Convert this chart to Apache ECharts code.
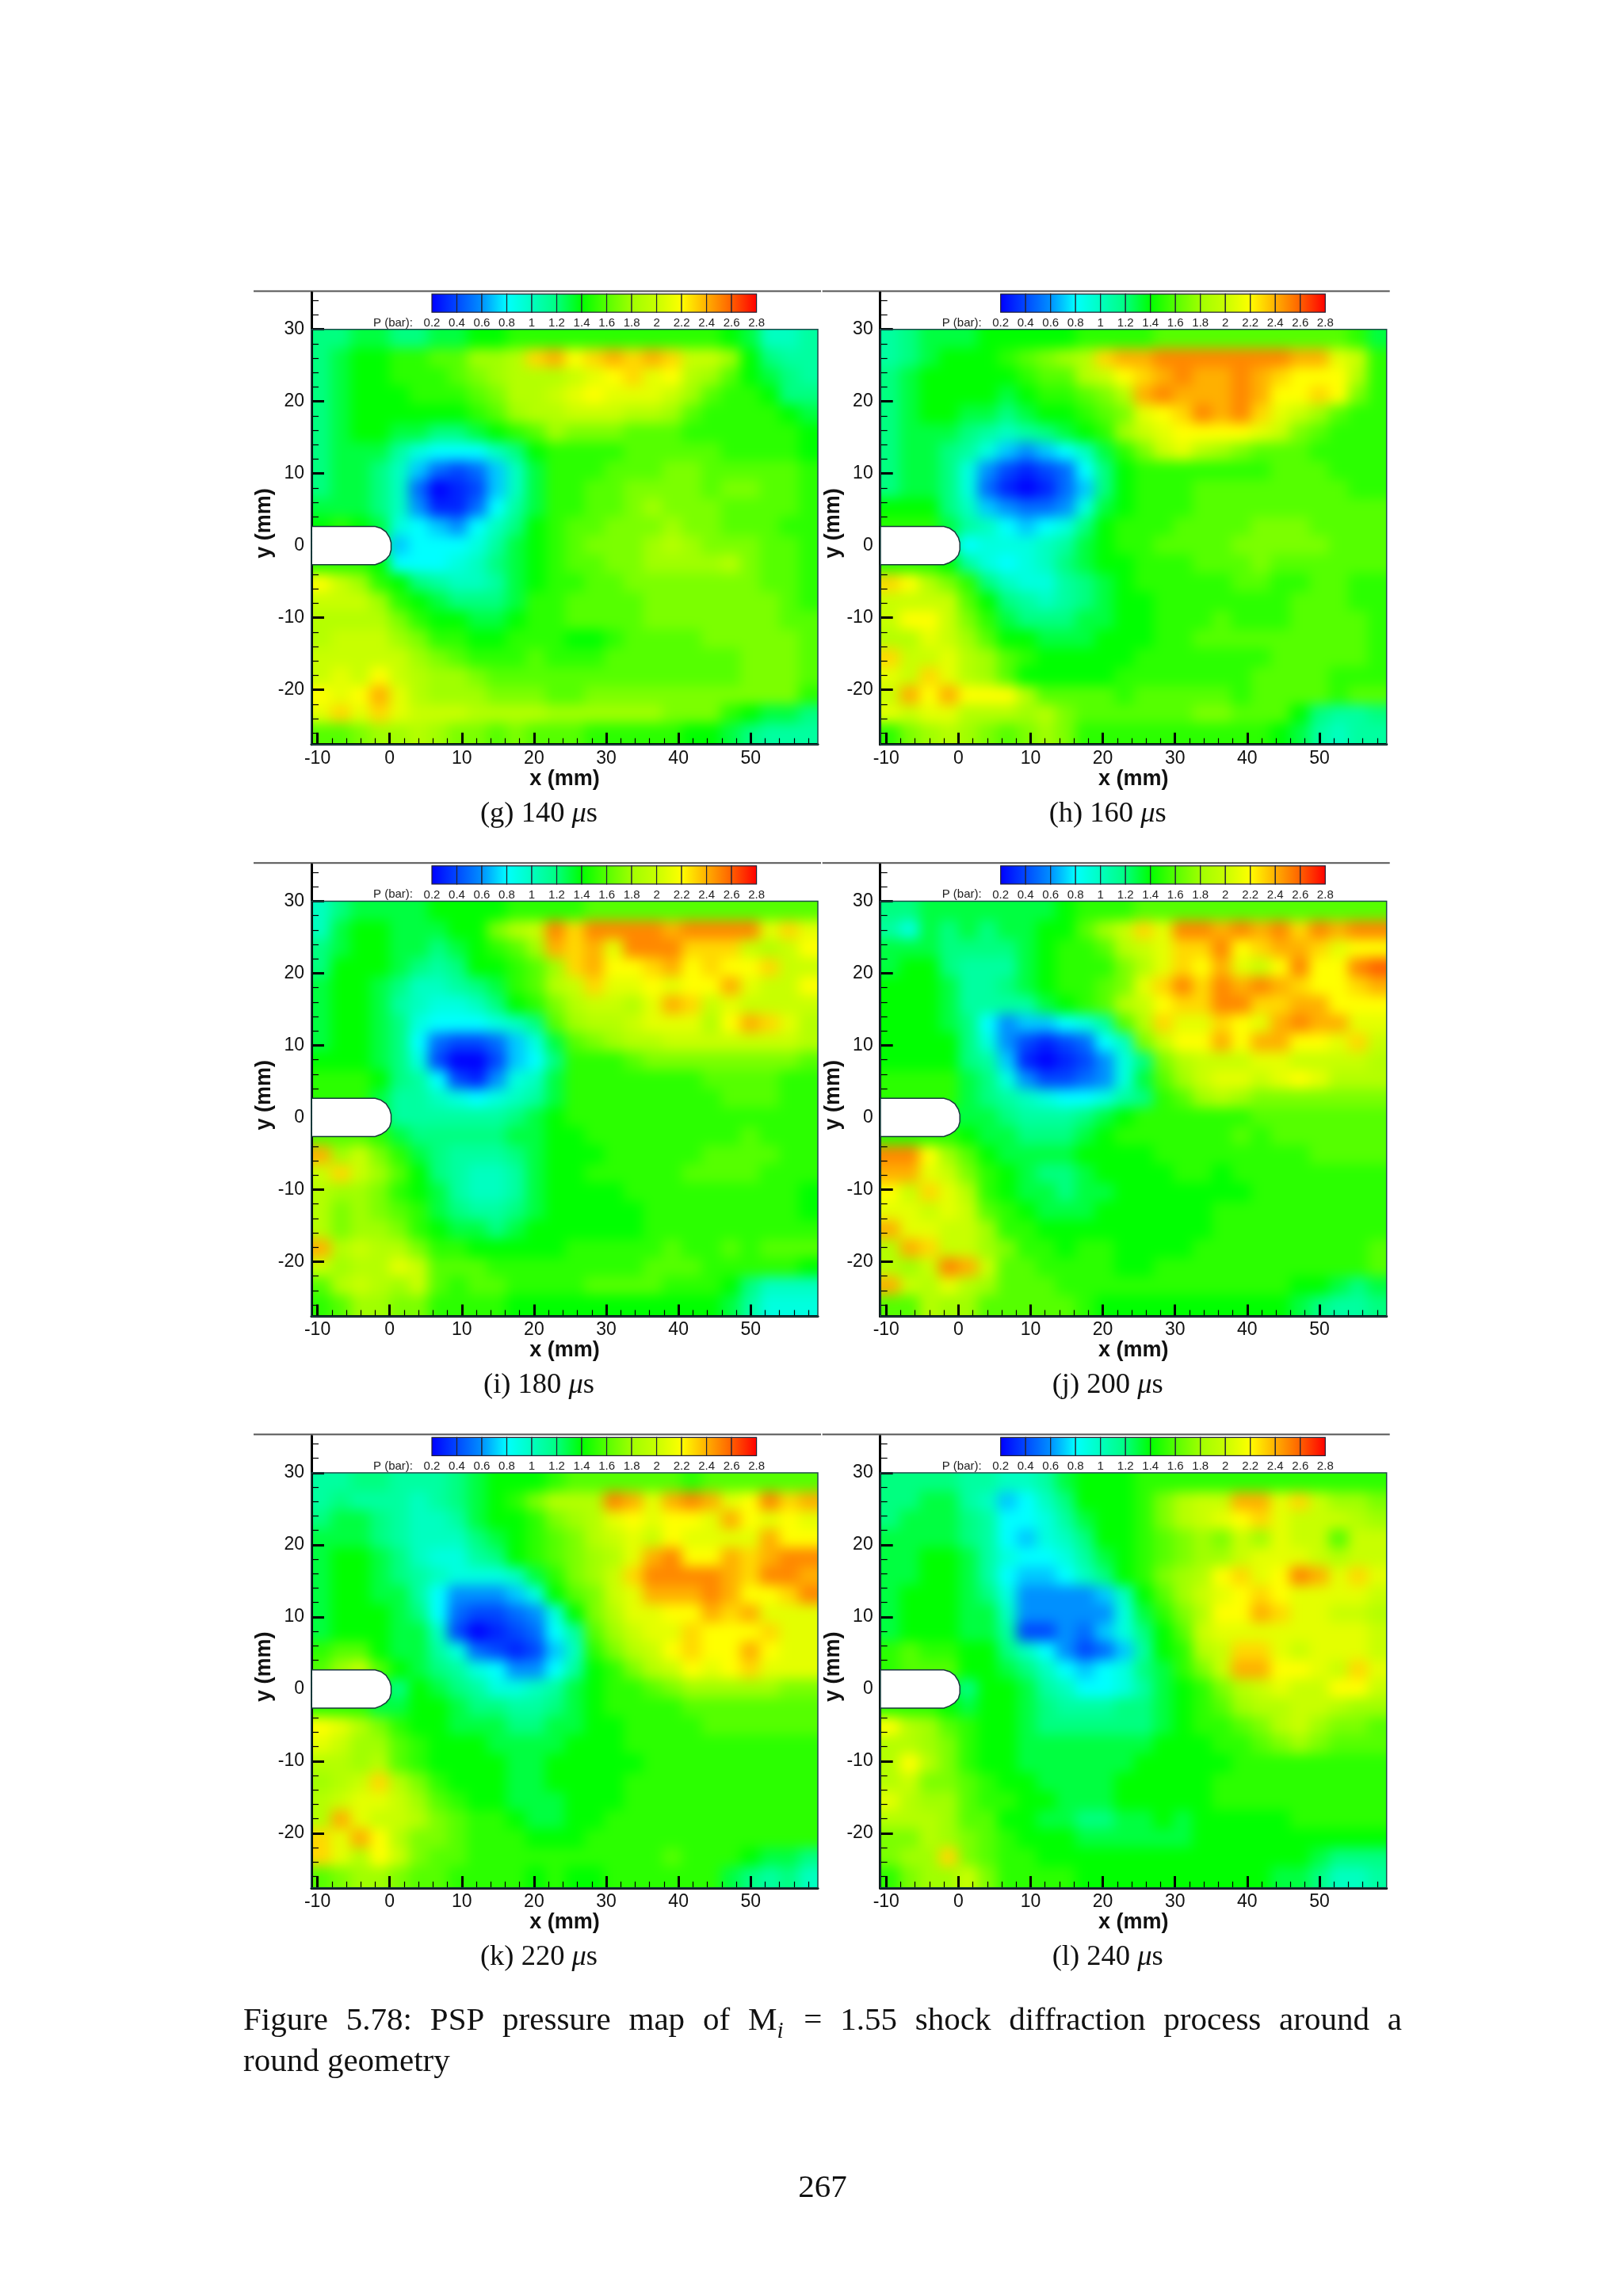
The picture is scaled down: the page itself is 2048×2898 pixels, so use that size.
<!DOCTYPE html>
<html>
<head>
<meta charset="utf-8">
<title>PSP pressure map</title>
<script src="https://cdn.jsdelivr.net/npm/echarts@6/dist/echarts.min.js"></script>
<style>
html, body { margin: 0; padding: 0; background: #fff; }
#page { position: absolute; left: 0; top: 0; width: 2048px; height: 2898px; z-index: 2; }
.heat { position: absolute; overflow: hidden; z-index: 1; }
.heat div.inner { position: absolute; filter: blur(8px); }
</style>
</head>
<body>
<div id="page"></div>
<script>
// cell centres in mm
const xCells = [-9.5,-6.8,-4.1,-1.4,1.3,4,6.7,9.4,12.1,14.8,17.5,20.2,22.9,25.6,28.3,31,33.7,36.4,39.1,41.8,44.5,47.2,49.9,52.6,55.3,58];
const yCells = [28.7,26.1,23.5,20.9,18.3,15.7,13.1,10.5,7.9,5.3,2.7,0.1,-2.5,-5.1,-7.7,-10.3,-12.9,-15.5,-18.1,-20.7,-23.3,-25.9];

const xTicks = [-10,0,10,20,30,40,50];
const xMinorTicks = [-8,-6,-4,-2,2,4,6,8,12,14,16,18,22,24,26,28,32,34,36,38,42,44,46,48,52,54,56,58];
const yTicks = [-20,-10,0,10,20,30];
const yMinorTicks = [-26,-24,-22,-18,-16,-14,-12,-8,-6,-4,-2,2,4,6,8,12,14,16,18,22,24,26,28,32,34];
const legendTicks = [0.2,0.4,0.6,0.8,1,1.2,1.4,1.6,1.8,2,2.2,2.4,2.6,2.8];

// round geometry outline, mm
const bodyX = [-10.8,-2,-1.2,-0.5,0,0.2,0.2,0,-0.5,-1.2,-2,-10.8];
const bodyY = [2.65,2.65,2.4,1.9,1.1,0.4,-0.6,-1.3,-1.9,-2.35,-2.65,-2.65];

const captions = ['(g) 140 ','(h) 160 ','(i) 180 ','(j) 200 ','(k) 220 ','(l) 240 '];

// pressure in tenths of a bar, rows top to bottom
const map140 = [
[12,12,13,13,12,12,13,13,14,14,15,15,15,15,15,15,15,15,15,15,15,14,13,10,10,11],
[12,13,14,14,15,15,16,16,18,18,19,23,24,22,23,24,23,24,23,20,20,18,14,12,11,11],
[12,13,14,14,15,15,15,16,17,18,19,19,19,20,21,22,23,21,22,19,18,16,14,13,12,11],
[12,13,14,14,14,15,15,15,16,17,19,19,20,21,22,21,21,21,20,18,16,15,15,14,12,12],
[12,13,14,14,14,14,14,14,15,16,18,19,19,20,20,20,19,19,18,16,15,15,15,15,14,13],
[12,13,14,14,13,13,12,12,13,14,15,16,18,17,17,17,16,16,16,15,15,15,15,15,15,14],
[12,13,13,13,11,9,8,8,8,10,12,14,15,15,15,15,16,16,16,16,16,15,15,15,15,14],
[12,13,13,12,10,7,5,4,5,7,10,13,15,15,15,16,16,16,17,17,16,16,16,16,16,15],
[12,13,13,12,10,5,2,3,4,7,10,13,15,15,16,16,17,17,17,17,16,17,17,16,16,15],
[13,13,13,12,10,6,3,3,5,8,11,13,15,15,16,16,17,18,17,17,17,16,16,16,16,15],
[14,15,14,13,9,8,7,6,8,10,12,14,15,16,16,17,17,17,18,17,17,16,16,16,15,15],
[13,13,13,12,7,8,8,8,9,11,13,14,15,16,17,17,17,18,19,18,17,17,17,16,16,15],
[15,15,15,14,8,8,8,9,10,12,13,14,15,16,16,17,17,18,18,18,18,19,17,16,16,15],
[22,20,18,15,14,12,11,10,10,11,13,14,15,15,16,16,17,17,17,17,17,17,17,16,16,15],
[20,20,20,18,15,14,13,12,12,12,13,15,15,16,16,16,16,17,17,17,17,17,17,17,16,15],
[19,19,19,19,17,15,14,14,13,13,14,15,15,16,16,16,16,17,17,17,17,17,17,17,16,16],
[19,20,20,20,18,17,15,15,14,14,15,15,15,14,14,15,16,16,16,16,17,17,17,17,17,16],
[20,20,20,20,20,18,17,16,15,15,15,16,15,15,15,16,16,16,16,16,16,16,17,17,17,16],
[20,21,20,22,20,19,18,18,17,16,16,16,16,16,16,16,16,16,16,16,16,16,17,17,17,16],
[22,21,22,24,21,19,18,18,18,17,17,17,16,16,17,17,17,17,17,17,17,17,17,17,17,15],
[21,23,21,23,21,20,20,20,19,19,19,19,18,18,18,18,18,18,17,17,17,15,14,13,13,12],
[16,16,17,18,18,19,18,17,17,16,17,16,16,16,15,15,15,15,15,14,14,13,12,11,11,11]
];
const map160 = [
[11,12,13,13,13,14,14,14,14,14,15,15,15,15,16,16,16,16,16,16,16,16,16,16,15,13],
[11,12,13,14,14,14,15,16,17,18,19,23,24,24,25,25,25,25,25,25,25,24,24,21,20,15],
[12,13,14,14,14,14,14,15,16,16,19,20,22,23,24,25,24,24,25,24,23,22,22,22,19,15],
[12,13,14,14,14,14,13,14,15,15,16,17,19,24,25,24,24,24,25,24,22,22,23,22,17,15],
[12,13,14,14,13,13,12,13,14,14,15,16,17,21,22,23,25,24,25,23,21,20,18,16,15,15],
[12,13,13,13,12,11,10,11,12,13,14,15,18,20,21,22,22,22,22,21,20,17,16,15,15,15],
[12,13,13,12,11,9,7,6,7,8,10,13,15,17,20,21,19,18,17,16,16,16,15,15,15,15],
[12,13,13,12,9,6,4,3,4,5,8,12,14,15,15,15,15,15,15,15,16,16,16,15,15,15],
[12,13,13,12,9,5,3,2,3,5,7,12,14,15,15,15,16,16,16,16,16,16,16,16,15,15],
[14,14,14,12,10,7,6,5,5,6,9,13,14,15,15,15,16,16,16,16,16,16,16,16,16,16],
[15,15,15,13,11,10,8,7,8,9,12,14,15,15,15,16,16,16,16,17,17,17,16,16,16,16],
[13,13,13,12,8,9,9,9,10,11,13,14,15,15,16,16,16,16,17,17,17,17,17,16,16,16],
[15,15,15,14,11,9,8,9,10,12,13,14,14,15,15,15,16,16,16,17,16,16,16,16,16,16],
[23,22,19,17,15,12,10,9,9,11,12,13,14,15,15,15,15,15,16,16,15,15,16,16,15,15],
[20,20,20,20,16,14,12,11,10,11,12,13,14,14,15,15,15,15,15,15,15,16,16,16,15,15],
[20,22,22,20,17,15,13,12,12,12,13,13,14,14,15,15,15,16,15,15,15,16,16,16,16,15],
[19,19,21,20,18,16,14,14,13,13,13,14,14,14,15,15,16,16,16,16,16,16,16,16,16,15],
[23,20,20,21,19,18,16,15,14,14,14,14,14,15,15,15,15,15,15,15,16,16,16,16,16,15],
[21,20,23,21,19,18,16,14,14,14,14,14,15,15,15,15,15,15,15,16,16,16,16,15,15,15],
[20,24,22,24,22,22,22,19,16,16,16,16,15,16,16,16,16,16,15,16,16,16,16,15,16,16],
[21,20,21,21,19,19,19,18,19,17,16,16,16,16,16,16,17,17,16,16,16,14,12,11,11,12],
[15,17,18,19,18,17,16,17,18,17,15,15,15,15,15,15,15,15,15,15,14,13,11,10,11,11]
];
const map180 = [
[10,12,13,13,13,13,14,14,14,14,15,15,15,15,16,16,16,16,16,16,16,16,16,16,16,16],
[10,13,14,14,13,13,13,14,14,17,19,20,25,23,25,25,25,25,24,25,25,25,25,21,23,21],
[12,13,14,14,13,13,12,13,14,15,16,18,24,23,24,21,25,25,25,23,23,23,20,19,20,22],
[12,14,14,14,13,12,11,12,14,14,15,16,18,23,24,22,22,23,24,22,23,22,22,23,20,20],
[13,14,14,13,12,10,10,11,12,13,15,16,19,20,23,21,21,22,21,22,22,24,21,20,20,22],
[13,14,14,13,11,10,9,9,10,12,14,15,17,19,20,20,19,21,24,23,20,21,20,20,20,20],
[13,14,14,13,12,9,8,8,8,9,10,12,16,18,19,19,20,21,21,21,19,22,24,23,21,19],
[13,14,14,13,12,8,5,4,4,5,7,9,13,16,17,18,19,19,20,20,20,20,20,20,20,19],
[14,14,14,13,12,9,4,2,2,4,7,8,12,15,15,15,16,17,17,17,17,17,17,17,17,16],
[15,15,15,14,12,11,8,4,3,6,9,10,13,15,15,15,15,15,15,15,16,16,16,16,15,15],
[15,15,15,13,11,11,10,9,8,9,10,11,13,15,15,15,15,15,15,15,15,16,16,16,15,15],
[13,13,13,13,11,11,11,11,11,11,12,13,14,15,15,15,15,15,15,15,15,15,15,15,15,15],
[16,16,16,15,13,12,12,12,12,12,13,13,14,14,15,15,15,15,15,15,15,15,16,15,15,15],
[24,18,20,17,15,13,12,11,11,11,12,13,14,14,14,15,15,15,15,15,16,16,16,16,15,15],
[20,23,20,18,16,14,12,11,10,10,11,13,14,14,15,15,15,15,15,16,16,16,16,15,15,15],
[19,18,18,17,15,14,13,11,10,10,11,13,14,14,14,14,15,15,15,15,15,15,15,15,15,14],
[19,17,18,17,16,15,13,12,11,11,12,13,14,14,14,14,14,15,15,15,15,15,15,15,15,14],
[19,17,18,18,17,15,14,13,13,12,13,14,14,14,14,14,14,15,15,15,15,15,15,15,15,15],
[24,19,20,19,19,17,15,15,14,14,14,14,14,15,15,15,15,15,16,15,15,16,15,16,16,16],
[20,18,19,19,21,20,16,16,16,15,15,15,15,15,15,15,15,16,16,16,15,15,15,15,15,14],
[16,19,20,19,18,20,16,15,16,16,15,15,15,15,16,16,16,16,15,15,15,14,12,10,10,10],
[15,16,18,18,17,17,15,15,15,15,14,14,14,14,14,14,14,14,14,14,14,13,11,9,9,9]
];
const map200 = [
[12,12,13,13,13,13,13,13,13,14,15,15,15,16,16,16,16,16,16,16,16,16,16,16,16,16],
[11,9,13,12,13,12,13,13,14,14,16,18,20,23,21,25,25,24,25,24,25,23,25,24,25,25],
[13,13,13,12,12,12,12,13,14,15,15,16,19,20,21,23,23,25,22,23,24,24,23,21,22,22],
[13,14,14,12,11,11,11,13,14,15,15,15,17,19,21,23,22,24,21,20,22,25,22,22,25,26],
[14,14,14,13,11,11,12,13,14,15,15,16,17,21,23,25,23,25,24,25,24,23,22,22,23,24],
[14,14,14,13,11,11,11,11,13,14,15,16,19,20,22,23,23,25,25,23,23,24,24,22,22,22],
[14,14,14,13,12,8,6,7,7,8,9,11,16,19,23,21,21,23,22,21,24,25,24,24,21,21],
[14,14,14,14,12,9,6,4,3,4,5,8,10,17,20,22,22,24,22,24,24,22,22,21,23,20],
[14,14,14,14,12,11,7,3,2,3,4,6,9,12,17,19,20,20,20,21,21,20,20,20,20,19],
[15,15,15,15,13,12,9,6,4,4,5,6,9,13,16,18,20,21,21,20,21,22,21,19,19,19],
[15,15,15,15,13,12,11,10,9,8,8,9,11,12,15,16,18,19,18,17,17,17,17,17,17,17],
[13,13,13,13,13,13,12,11,11,11,12,13,14,15,15,15,15,15,15,16,16,16,16,16,16,16],
[15,15,15,15,14,13,13,12,12,12,13,14,15,15,15,15,15,15,16,15,16,16,16,16,16,16],
[25,25,22,18,16,14,13,13,13,13,14,14,14,14,15,15,15,15,15,15,15,15,16,16,16,16],
[24,24,21,20,17,15,14,13,12,12,13,14,14,14,14,15,15,14,15,15,15,15,15,15,15,15],
[22,20,23,21,19,15,14,13,13,12,13,13,14,14,14,14,14,14,14,15,15,15,15,15,15,15],
[21,21,20,21,20,16,15,14,13,13,13,14,14,14,14,14,14,15,15,15,15,15,15,15,15,15],
[24,21,21,20,20,18,15,15,14,14,14,14,14,14,14,14,14,15,15,15,15,15,15,15,15,15],
[19,24,23,20,20,18,17,15,15,14,15,15,14,14,14,14,15,15,15,15,15,15,15,15,15,16],
[19,18,20,25,24,20,16,16,15,15,15,15,14,14,15,15,15,15,15,15,15,15,15,15,15,16],
[24,20,19,21,19,18,16,16,16,15,15,15,15,15,15,15,15,15,15,15,15,14,14,13,12,13],
[16,16,19,18,18,16,16,16,16,16,15,14,14,14,14,14,14,14,14,14,14,13,12,11,11,12]
];
const map220 = [
[11,11,12,12,11,11,11,12,13,14,14,14,15,16,16,16,16,16,16,15,16,16,16,16,16,16],
[11,12,11,11,11,10,11,12,13,14,15,17,19,19,19,25,24,21,24,25,24,21,22,25,23,24],
[12,13,13,12,11,10,10,11,13,14,14,15,17,18,19,21,22,21,22,22,21,24,22,21,22,21],
[13,13,13,12,11,10,10,10,12,13,14,15,16,17,19,20,21,20,22,21,21,21,21,24,22,22],
[13,14,14,13,12,10,9,9,11,12,14,15,16,17,18,19,21,24,25,22,22,24,23,24,25,25],
[13,14,14,13,12,11,10,9,9,9,10,13,15,17,18,20,23,25,25,25,25,24,23,25,25,24],
[13,14,14,13,13,11,8,6,6,6,7,9,14,16,17,20,21,24,24,24,25,24,22,22,23,25],
[13,14,14,14,13,12,8,5,4,4,5,6,9,14,17,19,21,21,22,22,24,23,24,21,21,21],
[13,14,14,14,13,13,10,4,2,3,4,5,8,11,16,18,20,21,21,23,22,22,22,23,21,21],
[15,16,16,14,13,13,11,9,5,4,3,4,7,10,15,17,19,20,22,23,22,22,24,22,21,21],
[16,18,20,16,14,13,12,11,9,8,6,6,8,11,14,15,17,19,20,22,21,22,23,21,21,21],
[13,13,13,13,12,14,13,12,11,9,9,10,11,13,14,15,15,16,17,18,18,18,18,18,17,17],
[15,15,15,13,13,14,14,13,12,12,11,11,12,13,14,15,15,15,15,16,16,16,16,16,16,16],
[22,21,19,17,15,14,14,13,13,13,12,12,13,13,14,14,15,15,15,15,16,16,16,16,16,16],
[21,20,18,18,16,15,14,14,14,13,13,13,13,14,14,14,15,15,15,15,15,15,15,15,15,15],
[19,19,18,19,16,15,14,14,14,14,13,13,14,14,14,14,14,15,15,15,15,15,15,15,15,15],
[18,19,20,23,19,17,15,14,14,14,13,13,14,14,14,14,15,15,15,15,15,15,15,15,15,15],
[19,20,21,21,20,18,16,15,14,14,13,13,13,14,14,14,15,15,15,15,15,15,15,15,15,15],
[19,24,21,20,20,19,17,16,15,15,14,13,13,14,14,15,15,15,15,15,15,15,15,15,15,15],
[23,21,24,22,19,17,17,16,15,15,15,14,14,14,15,15,15,15,15,15,15,15,15,15,15,15],
[23,21,19,22,20,17,16,16,15,15,15,15,15,15,15,15,15,15,16,15,15,15,14,13,13,12],
[16,17,18,18,17,16,16,15,15,15,15,14,15,14,14,15,15,15,15,15,15,13,12,11,12,10]
];
const map240 = [
[12,12,12,12,11,11,10,10,11,13,14,14,14,15,15,15,15,15,15,15,15,15,15,15,15,15],
[12,12,13,13,11,10,7,8,10,12,14,14,14,15,17,19,20,20,24,24,21,23,20,18,18,17],
[12,13,13,13,12,11,8,8,9,11,13,14,14,15,17,19,20,21,22,23,21,20,20,20,19,18],
[13,13,13,13,12,11,8,7,9,10,12,14,14,15,16,17,18,17,20,18,21,20,20,16,20,20],
[13,13,14,14,13,11,9,8,8,9,11,13,14,15,16,17,18,18,20,21,21,21,20,19,20,20],
[13,13,14,14,13,11,8,7,7,8,10,12,14,15,17,18,19,22,23,21,22,25,24,21,23,21],
[13,14,14,14,13,12,9,6,6,6,6,7,10,14,16,18,20,21,22,23,22,21,21,21,21,20],
[13,14,14,14,13,13,10,6,6,6,6,6,9,13,15,17,19,22,22,24,23,21,21,20,20,19],
[13,14,14,14,13,13,11,4,4,6,5,7,9,12,14,16,20,21,21,21,21,21,21,21,21,20],
[15,16,15,15,14,14,12,10,8,6,4,5,7,11,14,15,19,20,23,23,21,20,21,21,21,20],
[15,16,16,16,14,14,13,12,10,8,7,8,9,12,13,15,17,20,24,24,22,22,21,20,23,21],
[13,13,13,13,12,14,14,13,11,10,8,8,9,11,13,14,15,17,19,20,21,20,20,22,22,20],
[15,15,15,14,13,14,14,13,12,11,11,11,12,12,13,14,15,16,18,19,19,20,20,19,18,18],
[22,19,18,16,15,14,14,13,12,12,12,12,12,12,13,14,15,15,16,17,19,20,18,17,17,16],
[19,19,18,17,15,14,14,13,13,13,13,13,13,13,14,14,14,15,15,16,17,18,17,16,16,16],
[19,22,19,17,15,14,14,13,13,13,13,13,13,14,14,14,14,14,15,15,15,15,15,15,15,15],
[19,20,17,17,16,15,14,14,13,13,13,13,14,14,14,14,14,15,15,15,15,15,15,15,15,15],
[21,19,18,18,16,15,15,14,14,13,13,13,14,14,14,14,14,15,15,15,15,15,15,15,15,15],
[19,19,19,18,16,16,14,14,13,13,12,12,13,13,14,13,14,14,14,14,14,15,15,15,15,15],
[17,17,19,18,17,16,15,14,14,14,13,13,13,13,13,13,14,14,14,14,14,14,14,14,14,14],
[17,18,18,23,17,16,15,15,14,14,14,14,14,14,14,14,14,14,14,14,14,14,13,12,12,12],
[15,17,18,18,20,17,15,15,15,15,14,14,14,14,14,14,14,14,14,14,13,13,12,10,10,11]
];
const maps = [map140, map160, map180, map200, map220, map240];

const palette = ['#0000ff','#0048ff','#0090ff','#00ffff','#00ffc0','#00ff80','#00ff00','#55ff00','#a0ff00','#c8ff00','#ffff00','#ffb000','#ff6000','#ff0000'];

const colX = [393, 1110.7];
const rowY = [415.7, 1137.5, 1858.9];
const plotW = 639, plotH = 524;
const xMin = -10.83, xMax = 59.3, yMin = -27.6, yTop = 30, yAxisTop = 35.1;
const cellW = 2.7, cellH = 2.62;
const pad = 30;
const sans = '"Liberation Sans", Arial, sans-serif';
const serif = '"Liberation Serif", "Times New Roman", serif';

// 每个面板一张模糊的色块图
maps.forEach(function (rows, p) {
    const left = colX[p % 2], top = rowY[Math.floor(p / 2)];
    const box = document.createElement('div');
    box.className = 'heat';
    box.style.cssText = 'left:' + left + 'px;top:' + top + 'px;width:' + plotW + 'px;height:' + plotH + 'px';
    const inner = document.createElement('div');
    inner.className = 'inner';
    inner.style.cssText = 'left:' + (-pad) + 'px;top:' + (-pad) + 'px;width:' + (plotW + 2 * pad) + 'px;height:' + (plotH + 2 * pad) + 'px';
    box.appendChild(inner);
    document.body.appendChild(box);

    const cells = [];
    rows.forEach(function (row, j) {
        row.forEach(function (v, i) {
            cells.push([xCells[i], yCells[j], v / 10, i, j]);
        });
    });
    const heat = echarts.init(inner);
    heat.setOption({
        animation: false,
        grid: { left: pad, top: pad, width: plotW, height: plotH },
        xAxis: { type: 'value', min: xMin, max: xMax, show: false },
        yAxis: { type: 'value', min: yMin, max: yTop, show: false },
        visualMap: { show: false, type: 'continuous', min: 0.2, max: 2.8, dimension: 2, inRange: { color: palette } },
        series: [{
            type: 'custom',
            data: cells,
            encode: { x: 0, y: 1 },
            renderItem: function (params, api) {
                const a = api.coord([api.value(0) - cellW / 2, api.value(1) + cellH / 2]);
                const b = api.coord([api.value(0) + cellW / 2, api.value(1) - cellH / 2]);
                // 边缘的格子往外延伸，模糊后边上不会发白
                const x0 = api.value(3) === 0 ? a[0] - pad : a[0];
                const x1 = api.value(3) === xCells.length - 1 ? b[0] + pad : b[0] + 1;
                const y0 = api.value(4) === 0 ? a[1] - pad : a[1];
                const y1 = api.value(4) === yCells.length - 1 ? b[1] + pad : b[1] + 1;
                return { type: 'rect', shape: { x: x0, y: y0, width: x1 - x0, height: y1 - y0 }, style: { fill: api.visual('color') } };
            }
        }]
    });
});

const grids = [], xAxes = [], yAxes = [], series = [], graphics = [];

maps.forEach(function (rows, p) {
    const left = colX[p % 2], top = rowY[Math.floor(p / 2)];
    const axisTop = top - plotH * (yAxisTop - yTop) / (yTop - yMin);
    const n = p * 3;
    // 主坐标、次刻度、色标
    grids.push({ left: left, top: axisTop, width: plotW, height: top + plotH - axisTop });
    grids.push({ left: left + 152, top: top - 44.6, width: 409.6, height: 23 });

    xAxes.push({
        type: 'value', gridIndex: p * 2, position: 'bottom', min: xMin, max: xMax,
        name: 'x (mm)', nameLocation: 'middle', nameGap: 26,
        nameTextStyle: { color: '#111', fontSize: 27, fontWeight: 'bold', fontFamily: sans },
        axisLine: { onZero: false, lineStyle: { color: '#000', width: 3 } },
        axisTick: { inside: true, length: 15, customValues: xTicks, lineStyle: { color: '#000', width: 3 } },
        axisLabel: { customValues: xTicks, margin: 6, color: '#111', fontSize: 23, fontFamily: sans },
        splitLine: { show: false }
    });
    xAxes.push({
        type: 'value', gridIndex: p * 2, position: 'bottom', min: xMin, max: xMax,
        axisLine: { show: false, onZero: false },
        axisTick: { inside: true, length: 8, customValues: xMinorTicks, lineStyle: { color: '#000', width: 1.2 } },
        axisLabel: { show: false }, splitLine: { show: false }
    });
    xAxes.push({
        type: 'value', gridIndex: p * 2 + 1, position: 'bottom', min: 0.2, max: 2.8,
        axisLine: { show: false, onZero: false }, axisTick: { show: false }, splitLine: { show: false },
        axisLabel: { customValues: legendTicks, margin: 6, color: '#222', fontSize: 15, fontFamily: sans }
    });
    yAxes.push({
        type: 'value', gridIndex: p * 2, position: 'left', min: yMin, max: yAxisTop,
        name: 'y (mm)', nameLocation: 'middle', nameGap: 46,
        nameTextStyle: { color: '#111', fontSize: 27, fontWeight: 'bold', fontFamily: sans, padding: [0, 12, 0, 0] },
        axisLine: { onZero: false, lineStyle: { color: '#000', width: 3 } },
        axisTick: { inside: true, length: 16, customValues: yTicks, lineStyle: { color: '#000', width: 3 } },
        axisLabel: { customValues: yTicks, margin: 9, color: '#111', fontSize: 23, fontFamily: sans },
        splitLine: { show: false }
    });
    yAxes.push({
        type: 'value', gridIndex: p * 2, position: 'left', min: yMin, max: yAxisTop,
        axisLine: { show: false, onZero: false },
        axisTick: { inside: true, length: 9, customValues: yMinorTicks, lineStyle: { color: '#000', width: 1.2 } },
        axisLabel: { show: false }, splitLine: { show: false }
    });
    yAxes.push({
        type: 'value', gridIndex: p * 2 + 1, min: 0, max: 1, show: false
    });

    // 绘图区细边框
    series.push({
        type: 'custom', xAxisIndex: n, yAxisIndex: n, z: 3, silent: true,
        data: [[xMin, yTop, xMax, yMin]],
        renderItem: function (params, api) {
            const a = api.coord([api.value(0), api.value(1)]);
            const b = api.coord([api.value(2), api.value(3)]);
            return { type: 'rect', shape: { x: a[0], y: a[1], width: b[0] - a[0], height: b[1] - a[1] }, style: { fill: 'none', stroke: '#1c4a4a', lineWidth: 1.5 } };
        }
    });
    // 圆头模型
    series.push({
        type: 'custom', xAxisIndex: n, yAxisIndex: n, z: 4, silent: true,
        data: bodyX.map(function (x, i) { return [x, bodyY[i]]; }),
        renderItem: function (params, api) {
            if (params.dataIndex !== 0) return null;
            const pts = bodyX.map(function (x, i) { return api.coord([x, bodyY[i]]); });
            return { type: 'polygon', shape: { points: pts }, style: { fill: '#fff', stroke: '#17393a', lineWidth: 1.5 } };
        }
    });
    // 色标
    series.push({
        type: 'custom', xAxisIndex: n + 2, yAxisIndex: n + 2, silent: true,
        data: legendTicks.slice(0, -1).map(function (t, i) { return [t, legendTicks[i + 1]]; }),
        encode: { x: [0, 1] },
        renderItem: function (params, api) {
            const a = api.coord([api.value(0), 1]);
            const b = api.coord([api.value(1), 0]);
            const i = params.dataIndex;
            return {
                type: 'rect',
                shape: { x: a[0], y: a[1], width: b[0] - a[0], height: b[1] - a[1] },
                style: {
                    fill: new echarts.graphic.LinearGradient(0, 0, 1, 0, [
                        { offset: 0, color: palette[i] }, { offset: 1, color: palette[i + 1] }
                    ]),
                    stroke: '#223', lineWidth: 1.2
                }
            };
        }
    });

    graphics.push({
        type: 'text', x: left + 128, y: top - 8.3,
        style: { text: 'P (bar):', fill: '#222', fontSize: 15, fontFamily: sans, align: 'right', verticalAlign: 'middle' }
    });
    graphics.push({
        type: 'line',
        shape: { x1: left - 73, y1: top - 48.3, x2: left + 643, y2: top - 48.3 },
        style: { stroke: '#555', lineWidth: 2 }
    });
    graphics.push({
        type: 'text', x: left + 287, y: top + 611.3,
        style: {
            text: '{a|' + captions[p] + '}{m|\u03bc}{a|s}',
            align: 'center', verticalAlign: 'middle',
            rich: {
                a: { fontSize: 36.5, fontFamily: serif, fill: '#111' },
                m: { fontSize: 36.5, fontFamily: serif, fontStyle: 'italic', fill: '#111' }
            }
        }
    });
});

// 图注，两端对齐
const line1 = ['Figure','5.78:','PSP','pressure','map','of','M','=','1.55','shock','diffraction','process','around','a'];
const ctx = document.createElement('canvas').getContext('2d');
ctx.font = '41px "Liberation Serif"';
const subW = 11;
const widths = line1.map(function (w) { return ctx.measureText(w).width + (w === 'M' ? subW : 0); });
const gap = (1462 - widths.reduce(function (s, w) { return s + w; }, 0)) / (line1.length - 1);
let cursor = 307;
line1.forEach(function (word, i) {
    graphics.push({
        type: 'text', x: cursor, y: 2551,
        style: { text: word, fontSize: 41, fontFamily: serif, fill: '#111', verticalAlign: 'middle' }
    });
    if (word === 'M') {
        graphics.push({
            type: 'text', x: cursor + widths[i] - subW, y: 2564,
            style: { text: 'i', fontSize: 29, fontStyle: 'italic', fontFamily: serif, fill: '#111', verticalAlign: 'middle' }
        });
    }
    cursor += widths[i] + gap;
});
graphics.push({
    type: 'text', x: 307, y: 2603,
    style: { text: 'round geometry', fontSize: 41, fontFamily: serif, fill: '#111', verticalAlign: 'middle' }
});
graphics.push({
    type: 'text', x: 1038, y: 2762,
    style: { text: '267', fontSize: 41, fontFamily: serif, fill: '#111', align: 'center', verticalAlign: 'middle' }
});

const page = echarts.init(document.getElementById('page'));
page.setOption({
    animation: false,
    grid: grids,
    xAxis: xAxes,
    yAxis: yAxes,
    series: series,
    graphic: graphics
});
</script>
</body>
</html>
